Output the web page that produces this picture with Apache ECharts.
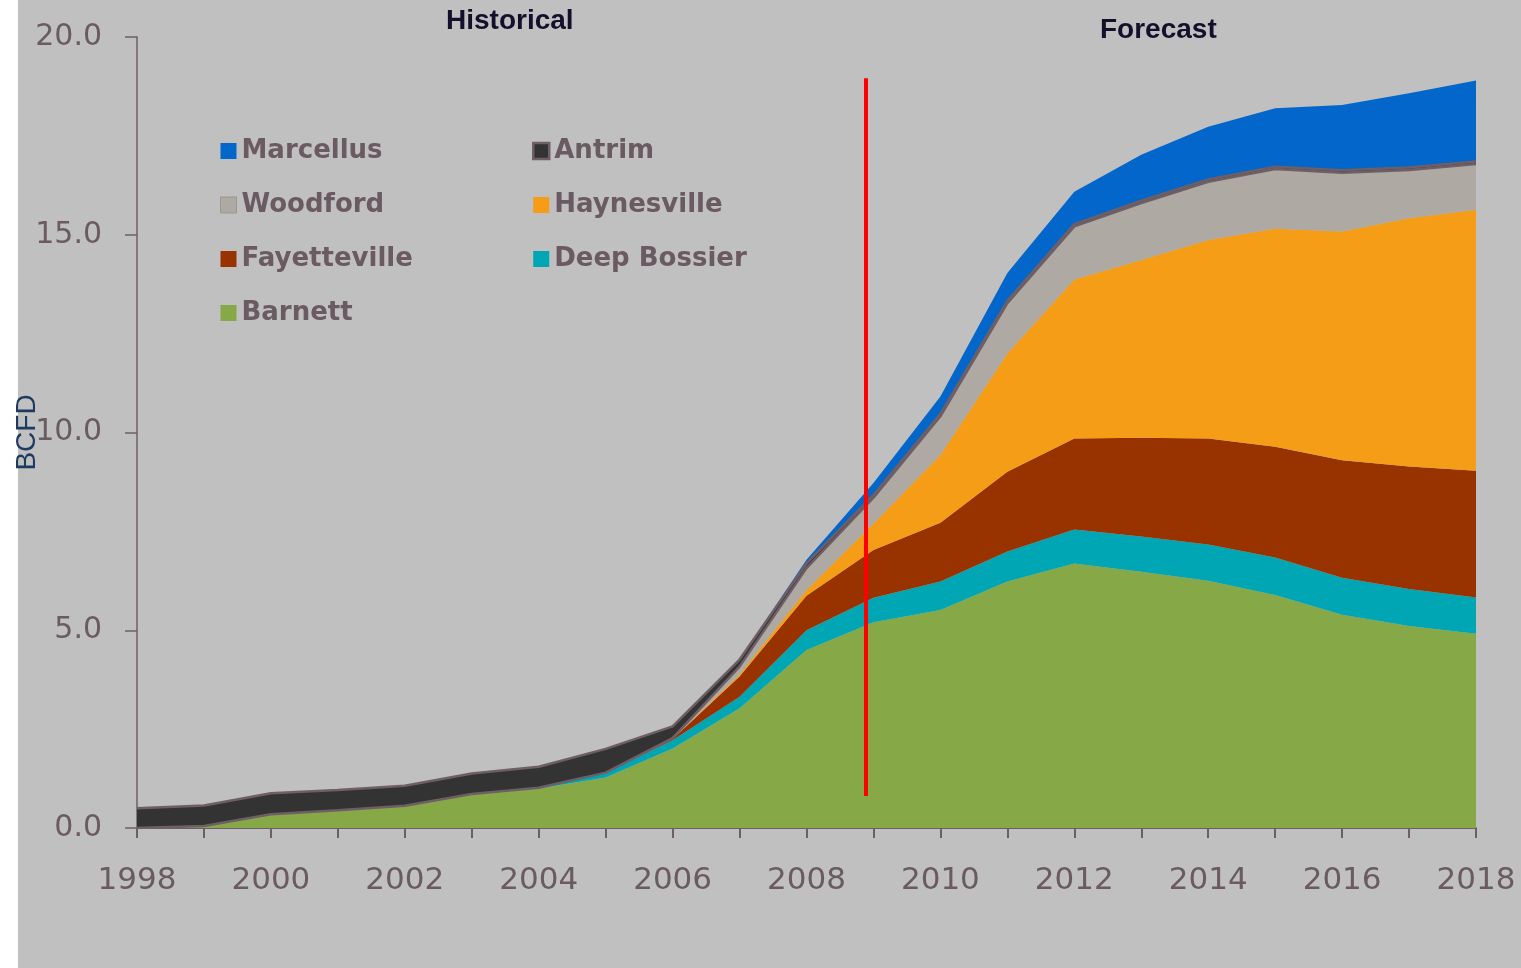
<!DOCTYPE html>
<html>
<head>
<meta charset="utf-8">
<script src="https://cdn.jsdelivr.net/npm/echarts@6/dist/echarts.min.js"></script>
<style>
html,body{margin:0;padding:0;background:#ffffff;width:1521px;height:968px;overflow:hidden;}
#chart{position:absolute;left:0;top:0;width:1521px;height:968px;}
</style>
</head>
<body>
<div id="chart"></div>
<script>
const years = ['1998','1999','2000','2001','2002','2003','2004','2005','2006','2007','2008','2009','2010','2011','2012','2013','2014','2015','2016','2017','2018'];
const barnett      = [0.0,0.05,0.35,0.45,0.56,0.86,1.0,1.28,2.01,3.03,4.5,5.2,5.51,6.23,6.69,6.48,6.25,5.89,5.39,5.11,4.91];
const deepBossier  = [0,0,0,0,0,0,0.02,0.12,0.21,0.29,0.5,0.62,0.72,0.76,0.86,0.89,0.92,0.95,0.94,0.93,0.92];
const fayetteville = [0,0,0,0,0,0,0,0,0.03,0.51,0.87,1.21,1.49,2.02,2.30,2.50,2.68,2.80,2.97,3.10,3.20];
const haynesville  = [0,0,0,0,0,0,0,0,0,0.05,0.15,0.67,1.71,2.99,4.02,4.49,5.02,5.51,5.78,6.28,6.60];
const woodford     = [0,0,0,0,0,0,0,0,0.02,0.2,0.55,0.65,0.98,1.27,1.34,1.44,1.47,1.51,1.49,1.22,1.16];
const antrim       = [0.5,0.52,0.53,0.51,0.51,0.52,0.53,0.6,0.3,0.18,0.12,0.07,0.06,0.06,0.06,0.06,0.06,0.06,0.06,0.06,0.06];
const marcellus    = [0,0,0,0,0,0,0,0,0,0,0.09,0.3,0.44,0.70,0.82,1.16,1.33,1.48,1.65,1.88,2.05];
const yTicks = [0,5,10,15,20];
const dividerYear = 2008.88;
const dividerRange = [0.81, 18.96];

const TXT = '#6A5A61';
const OUT = '#6E5F66';
const seriesDefs = [
  {name:'Barnett', data:barnett, color:'#87A846'},
  {name:'Deep Bossier', data:deepBossier, color:'#00A6B3'},
  {name:'Fayetteville', data:fayetteville, color:'#983300'},
  {name:'Haynesville', data:haynesville, color:'#F59D16'},
  {name:'Woodford', data:woodford, color:'#AEA9A3', line:{color:OUT,width:2.5}},
  {name:'Antrim', data:antrim, color:'#333333', line:{color:OUT,width:2.5}},
  {name:'Marcellus', data:marcellus, color:'#0366CA'}
];

const series = seriesDefs.map(d => ({
  name: d.name,
  type: 'line',
  stack: 'total',
  symbol: 'none',
  color: d.color,
  itemStyle: {color: d.color},
  lineStyle: d.line ? d.line : {width: 0, color: d.color},
  areaStyle: {color: d.color, opacity: 1},
  emphasis: {disabled: true},
  data: d.data
}));
series.push({
  name: 'divider',
  type: 'line',
  xAxisIndex: 1,
  data: [],
  markLine: {
    silent: true,
    symbol: ['none','none'],
    label: {show: false},
    lineStyle: {color: '#FF0000', width: 4, type: 'solid'},
    data: [[{coord: [dividerYear, dividerRange[0]]}, {coord: [dividerYear, dividerRange[1]]}]]
  }
});

const legendText = {fontFamily: 'DejaVu Sans', fontWeight: 'bold', fontSize: 26, color: TXT, lineHeight: 30};
function legendItem(name){
  if (name === 'Antrim') return {name, itemStyle:{borderColor: OUT, borderWidth: 2.5}};
  if (name === 'Woodford') return {name, itemStyle:{borderColor: '#9C968F', borderWidth: 1}};
  return {name};
}

const chart = echarts.init(document.getElementById('chart'));
chart.setOption({
  backgroundColor: '#C0C0C0',
  animation: false,
  grid: {left: 137, right: 45, top: 37, bottom: 140, outerBoundsMode: 'none', containLabel: false},
  legend: [
    {
      orient: 'vertical', left: 215, top: 131, icon: 'rect', itemWidth: 16, itemHeight: 16,
      itemGap: 24, itemTextGap: 8, selectedMode: false, textStyle: legendText,
      data: ['Marcellus','Woodford','Fayetteville','Barnett'].map(legendItem)
    },
    {
      orient: 'vertical', left: 527, top: 131, icon: 'rect', itemWidth: 16, itemHeight: 16,
      itemGap: 24, itemTextGap: 8, selectedMode: false, textStyle: legendText,
      data: ['Antrim','Haynesville','Deep Bossier'].map(legendItem)
    }
  ],
  xAxis: [
    {
      type: 'category', data: years, boundaryGap: false,
      splitLine: {show: false},
      axisLine: {lineStyle: {color: OUT, width: 2}},
      axisTick: {length: 10, interval: 0, alignWithLabel: true, lineStyle: {color: OUT, width: 2}},
      axisLabel: {
        interval: 1, margin: 37, fontFamily: 'DejaVu Sans', fontSize: 31, color: TXT
      }
    },
    {
      type: 'value', min: Number(years[0]), max: Number(years[years.length-1]), show: false
    }
  ],
  yAxis: {
    type: 'value', min: yTicks[0], max: yTicks[yTicks.length-1], interval: 5,
    name: 'BCFD', nameLocation: 'middle', nameRotate: 90, nameGap: 96, nameMoveOverlap: false,
    nameTextStyle: {fontFamily: 'Liberation Sans', fontSize: 28, color: '#1F3A60'},
    splitLine: {show: false},
    axisLine: {show: true, lineStyle: {color: OUT, width: 1.5}},
    axisTick: {show: true, length: 12, lineStyle: {color: OUT, width: 1.5}},
    axisLabel: {
      margin: 35, fontFamily: 'DejaVu Sans', fontSize: 30, color: TXT,
      formatter: v => v.toFixed(1)
    }
  },
  graphic: [
    {type: 'rect', left: 0, top: 0, z: -10, silent: true,
     shape: {width: 18, height: 968}, style: {fill: '#FFFFFF'}},
    {type: 'text', left: 510 - 64, top: 7, z: 10,
     style: {text: 'Historical', fontFamily: 'Liberation Sans', fontWeight: 'bold', fontSize: 28, fill: '#150F2C'}},
    {type: 'text', left: 1158 - 58, top: 16, z: 10,
     style: {text: 'Forecast', fontFamily: 'Liberation Sans', fontWeight: 'bold', fontSize: 28, fill: '#150F2C'}}
  ],
  series: series
});
</script>
</body>
</html>
